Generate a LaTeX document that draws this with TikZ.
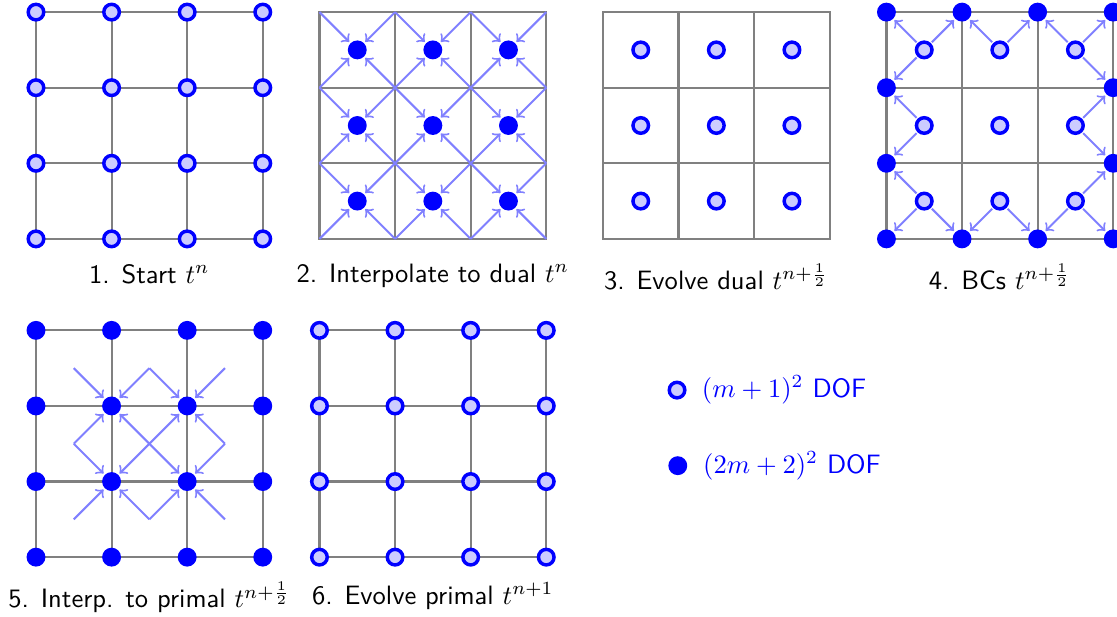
\documentclass[tikz,border=0pt]{standalone}
\usetikzlibrary{positioning}

\begin{document}
\begin{tikzpicture}[
  mesh/.style={gray,line width=0.8pt},
  opendot/.style={circle,draw=blue,fill=blue!20,line width=1.3pt,inner sep=0pt,minimum size=0.206cm},
  fulldot/.style={circle,fill=blue,inner sep=0pt,minimum size=0.25cm},
  interp/.style={->,blue!50,line width=0.75pt,shorten >=0.5pt},
  paneltitle/.style={anchor=north,font=\sffamily},
  key/.style={text=blue,font=\sffamily},
]
\useasboundingbox (-0.476,-5.0) rectangle (14.30,3.16);

% 3x3 cells, drawn line by line
\def\cells{\draw[mesh] (0,0) rectangle (3,3) (1,0) -- (1,3) (2,0) -- (2,3)
  (0,1) -- (3,1) (0,2) -- (3,2);}

% Panel 1: primal values at t^n
\begin{scope}
  \cells
  \foreach \p in {0,...,3} \foreach \q in {0,...,3}
    \node[opendot] (a-\p-\q) at (\p,\q) {};
  \node[paneltitle] (t1) at (1.5,-0.21) {1. Start $t^n$};
\end{scope}

% Panel 2: vertices -> cell centres
\begin{scope}[xshift=3.75cm]
  \cells
  \foreach \p in {0,...,3} \foreach \q in {0,...,3}
    \coordinate (bv-\p-\q) at (\p,\q);
  \foreach \i in {0,1,2} \foreach \j in {0,1,2}
    \node[fulldot] (b-\i-\j) at (\i+0.5,\j+0.5) {};
  \foreach \i in {0,1,2} \foreach \j in {0,1,2}
    \foreach \di/\dj in {0/0,0/1,1/0,1/1} {
      \pgfmathtruncatemacro\p{\i+\di}
      \pgfmathtruncatemacro\q{\j+\dj}
      \draw[interp] (bv-\p-\q) -- (b-\i-\j);
    }
  \node[paneltitle] (t2) at (1.5,-0.21) {2. Interpolate to dual $t^n$};
\end{scope}

% Panel 3: dual values
\begin{scope}[xshift=7.5cm]
  \cells
  \foreach \i in {0,1,2} \foreach \j in {0,1,2}
    \node[opendot] (c-\i-\j) at (\i+0.5,\j+0.5) {};
  \node[paneltitle] (t3) at (1.5,-0.21) {3. Evolve dual $t^{n+\frac{1}{2}}$};
\end{scope}

% Panel 4: boundary conditions
\begin{scope}[xshift=11.25cm]
  \cells
  \foreach \i in {0,1,2} \foreach \j in {0,1,2}
    \node[opendot] (d-\i-\j) at (\i+0.5,\j+0.5) {};
  \foreach \p/\q in {0/0,1/0,2/0,3/0,0/3,1/3,2/3,3/3,0/1,0/2,3/1,3/2}
    \node[fulldot] (e-\p-\q) at (\p,\q) {};
  \foreach \i in {0,1,2} \foreach \j in {0,1,2}
    \foreach \di/\dj in {0/0,0/1,1/0,1/1} {
      \pgfmathtruncatemacro\p{\i+\di}
      \pgfmathtruncatemacro\q{\j+\dj}
      \pgfmathtruncatemacro\bnd{or(or(\p==0,\p==3),or(\q==0,\q==3))}
      \ifnum\bnd=1
        \draw[interp,shorten <=0.5pt] (d-\i-\j) -- (e-\p-\q);
      \fi
    }
  \node[paneltitle] (t4) at (1.5,-0.21) {4. BCs $t^{n+\frac{1}{2}}$};
\end{scope}

% Panel 5: cell centres -> interior vertices
\begin{scope}[yshift=-4.21cm]
  \cells
  \foreach \p in {0,...,3} \foreach \q in {0,...,3}
    \node[fulldot] (f-\p-\q) at (\p,\q) {};
  \foreach \i in {0,1,2} \foreach \j in {0,1,2} {
    \coordinate (fc-\i-\j) at (\i+0.5,\j+0.5);
    \foreach \di/\dj in {0/0,0/1,1/0,1/1} {
      \pgfmathtruncatemacro\p{\i+\di}
      \pgfmathtruncatemacro\q{\j+\dj}
      \pgfmathtruncatemacro\inr{and(and(\p>0,\p<3),and(\q>0,\q<3))}
      \ifnum\inr=1
        \draw[interp] (fc-\i-\j) -- (f-\p-\q);
      \fi
    }
  }
  \node[paneltitle] (t5) at (1.5,-0.21) {5. Interp. to primal $t^{n+\frac{1}{2}}$};
\end{scope}

% Panel 6: primal values at t^{n+1}
\begin{scope}[xshift=3.75cm,yshift=-4.21cm]
  \cells
  \foreach \p in {0,...,3} \foreach \q in {0,...,3}
    \node[opendot] (g-\p-\q) at (\p,\q) {};
  \node[paneltitle] (t6) at (1.5,-0.21) {6. Evolve primal $t^{n+1}$};
\end{scope}

% Legend
\node[opendot] (k1) at (8.48,-2.0) {};
\node[key,right=0.08cm of k1] (k1t) {$(m+1)^2$ DOF};
\node[fulldot] (k2) at (8.49,-3.0) {};
\node[key,right=0.08cm of k2] (k2t) {$(2m+2)^2$ DOF};

\end{tikzpicture}
\end{document}
